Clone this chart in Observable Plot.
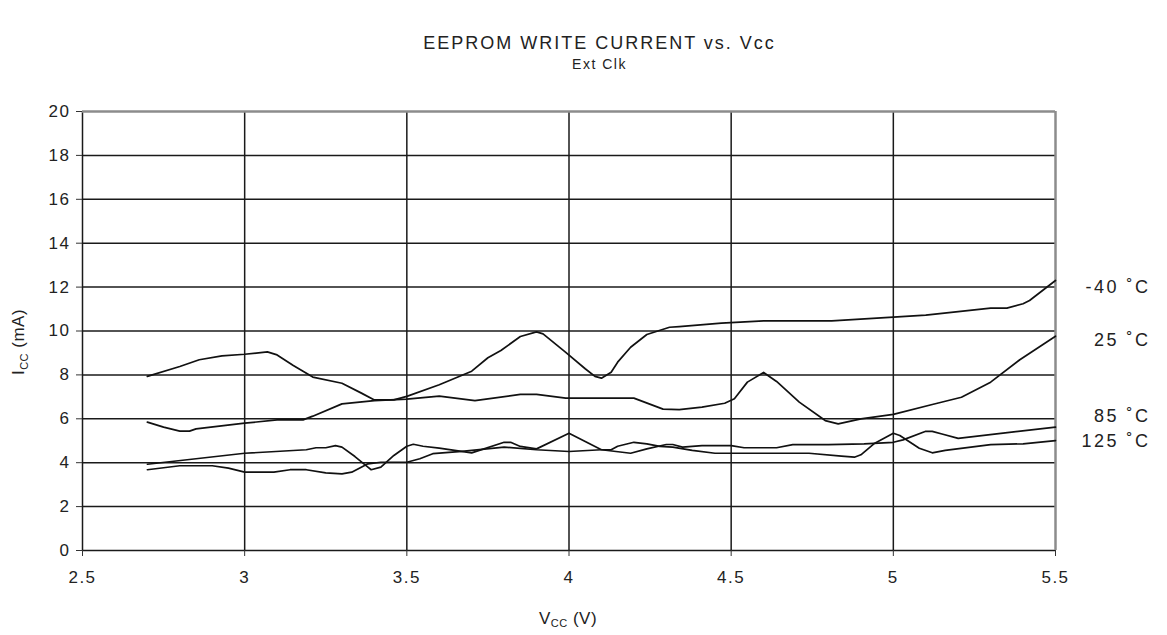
<!DOCTYPE html>
<html>
<head>
<meta charset="utf-8">
<script src="https://cdn.jsdelivr.net/npm/d3@7"></script>
<script src="https://cdn.jsdelivr.net/npm/@observablehq/plot@0.6"></script>
<style>
  body { margin: 0; background: #fff; font-family: "Liberation Sans", Arial, sans-serif; }
  #wrap { position: relative; width: 1167px; height: 635px; background: #fff; }
  #head { position: relative; width: 1167px; height: 80px; }
  #title { position: absolute; left: 16px; width: 1167px; top: 33px; text-align: center; font-size: 18px; line-height: 20px; letter-spacing: 2px; color: #222; }
  #subtitle { position: absolute; left: 16px; width: 1167px; top: 56px; text-align: center; font-size: 14px; line-height: 16px; letter-spacing: 1.5px; color: #222; }
  svg text { letter-spacing: 1.5px; }
</style>
</head>
<body>
<div id="wrap">
  <div id="head">
    <div id="title">EEPROM WRITE CURRENT vs. Vcc</div>
    <div id="subtitle">Ext Clk</div>
  </div>
  <div id="chart"></div>
</div>
<script>
// Series: Vcc (V) and Icc (mA)
const vcc_m40 = [2.70,2.80,2.86,2.93,3.00,3.07,3.10,3.15,3.21,3.30,3.36,3.40,3.46,3.50,3.60,3.70,3.75,3.79,3.85,3.90,3.92,3.99,4.05,4.08,4.10,4.13,4.15,4.19,4.24,4.31,4.34,4.47,4.60,4.81,5.00,5.10,5.30,5.35,5.40,5.42,5.50];
const icc_m40 = [7.93,8.38,8.69,8.87,8.94,9.05,8.91,8.43,7.90,7.62,7.17,6.86,6.86,7.02,7.55,8.17,8.78,9.11,9.75,9.96,9.87,9.03,8.28,7.93,7.85,8.12,8.58,9.26,9.84,10.17,10.20,10.36,10.46,10.46,10.63,10.72,11.04,11.04,11.24,11.39,12.30];

const vcc_25 = [2.70,2.75,2.80,2.83,2.85,3.00,3.10,3.18,3.21,3.30,3.40,3.50,3.60,3.71,3.85,3.90,3.99,4.20,4.29,4.34,4.41,4.48,4.51,4.55,4.60,4.64,4.71,4.79,4.83,4.90,5.00,5.12,5.21,5.30,5.39,5.50];
const icc_25 = [5.85,5.62,5.44,5.44,5.54,5.80,5.95,5.95,6.12,6.68,6.83,6.90,7.03,6.83,7.11,7.11,6.94,6.94,6.44,6.42,6.53,6.71,6.91,7.67,8.11,7.70,6.76,5.92,5.77,6.00,6.20,6.65,6.98,7.67,8.69,9.76];

const vcc_85 = [2.70,3.00,3.19,3.22,3.25,3.28,3.30,3.34,3.38,3.39,3.42,3.46,3.50,3.52,3.55,3.60,3.70,3.80,3.82,3.85,3.90,4.00,4.10,4.19,4.24,4.30,4.32,4.35,4.41,4.50,4.54,4.64,4.69,4.80,4.91,5.00,5.03,5.10,5.12,5.15,5.20,5.50];
const icc_85 = [3.93,4.43,4.59,4.68,4.68,4.78,4.71,4.28,3.80,3.68,3.80,4.33,4.75,4.84,4.75,4.66,4.45,4.93,4.93,4.74,4.63,5.34,4.59,4.43,4.63,4.83,4.83,4.71,4.78,4.78,4.68,4.68,4.82,4.82,4.86,4.93,5.04,5.43,5.43,5.31,5.11,5.62];

const vcc_125 = [2.70,2.80,2.90,2.95,3.00,3.09,3.14,3.19,3.25,3.30,3.33,3.38,3.42,3.50,3.54,3.58,3.67,3.80,3.90,4.00,4.10,4.13,4.15,4.20,4.24,4.28,4.32,4.38,4.45,4.59,4.74,4.84,4.88,4.90,4.94,5.00,5.02,5.08,5.12,5.16,5.30,5.40,5.50];
const icc_125 = [3.68,3.86,3.86,3.75,3.57,3.57,3.68,3.68,3.54,3.49,3.57,3.95,4.02,4.02,4.18,4.41,4.52,4.71,4.59,4.51,4.59,4.59,4.75,4.93,4.86,4.74,4.71,4.56,4.43,4.43,4.43,4.30,4.25,4.36,4.86,5.34,5.24,4.66,4.45,4.56,4.82,4.86,5.01];

const seriesNames = ["-40 ˚C", "25 ˚C", "85 ˚C", "125 ˚C"];
const labelY = [11.98, 9.57, 6.1, 4.97];   // vertical placement of the series labels (mA)

const xTicks = [2.5, 3, 3.5, 4, 4.5, 5, 5.5];
const yTicks = [0, 2, 4, 6, 8, 10, 12, 14, 16, 18, 20];

const seriesV = [vcc_m40, vcc_25, vcc_85, vcc_125];
const seriesI = [icc_m40, icc_25, icc_85, icc_125];
const rows = [];
seriesV.forEach((vs, s) => vs.forEach((v, k) => rows.push({series: seriesNames[s], v, i: seriesI[s][k]})));
const labels = seriesNames.map((name, k) => ({name, y: labelY[k]}));

const chart = Plot.plot({
  width: 1167,
  height: 555,
  marginLeft: 82,
  marginRight: 112,
  marginTop: 31,
  marginBottom: 85,
  style: {fontFamily: "Liberation Sans, Arial, sans-serif", fontSize: "17px", color: "#222", background: "white", overflow: "visible"},
  x: {domain: [2.5, 5.5]},
  y: {domain: [0, 20]},
  marks: [
    Plot.ruleX(xTicks.slice(0, -1), {stroke: "#1a1a1a", strokeWidth: 1.5}),
    Plot.ruleY(yTicks.slice(0, -1), {stroke: "#1a1a1a", strokeWidth: 1.5}),
    Plot.ruleX(xTicks.slice(-1), {stroke: "#8c8c8c", strokeWidth: 2.5}),
    Plot.ruleY(yTicks.slice(-1), {stroke: "#8c8c8c", strokeWidth: 2.5}),
    Plot.axisX({ticks: xTicks, tickFormat: d => String(d), tickSize: 6, tickPadding: 14, label: null, stroke: "#333"}),
    Plot.axisY({ticks: yTicks, tickFormat: d => String(d), tickSize: 6, tickPadding: 6, label: null, stroke: "#333"}),
    Plot.line(rows, {x: "v", y: "i", z: "series", stroke: "#111", strokeWidth: 1.7}),
    Plot.text(labels, {x: () => 5.5, y: "y", text: "name", textAnchor: "end", dx: 95, fontSize: 18, fill: "#222"})
  ]
});

document.getElementById("chart").appendChild(chart);

const svg = d3.select(chart);
svg.selectAll('g[aria-label="text"] text').style("letter-spacing", "2.5px");

// Y axis title with subscript
const yl = svg.append("text")
  .attr("transform", "translate(24,262) rotate(-90)")
  .attr("text-anchor", "middle")
  .attr("font-size", 17)
  .attr("fill", "#222")
  .style("letter-spacing", "0.5px");
yl.append("tspan").text("I");
yl.append("tspan").attr("font-size", 11).attr("dy", 4).text("CC");
yl.append("tspan").attr("dy", -4).text(" (mA)");

// X axis title with subscript
const xl = svg.append("text")
  .attr("x", 568).attr("y", 544)
  .attr("text-anchor", "middle")
  .attr("font-size", 17)
  .attr("fill", "#222")
  .style("letter-spacing", "0.5px");
xl.append("tspan").text("V");
xl.append("tspan").attr("font-size", 11).attr("dy", 3).text("CC");
xl.append("tspan").attr("dy", -3).text(" (V)");
</script>
</body>
</html>
